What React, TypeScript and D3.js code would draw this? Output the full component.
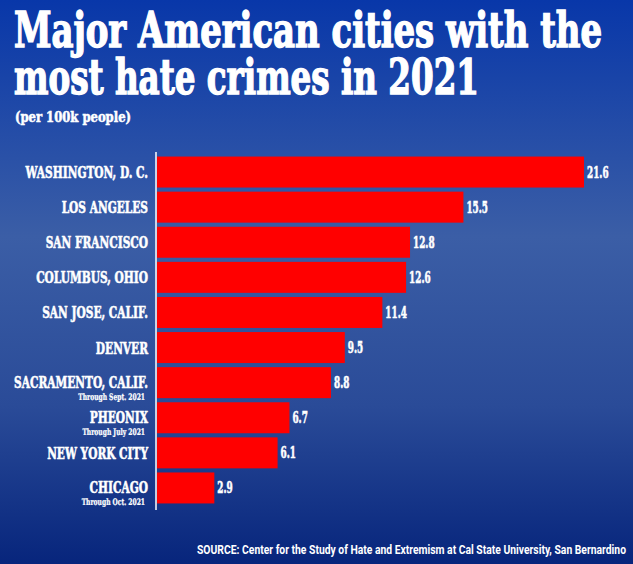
import React from "react";
import * as d3 from "d3";

const cities = [
  "WASHINGTON, D. C.",
  "LOS ANGELES",
  "SAN FRANCISCO",
  "COLUMBUS, OHIO",
  "SAN JOSE, CALIF.",
  "DENVER",
  "SACRAMENTO, CALIF.",
  "PHEONIX",
  "NEW YORK CITY",
  "CHICAGO",
];
const values = [21.6, 15.5, 12.8, 12.6, 11.4, 9.5, 8.8, 6.7, 6.1, 2.9];
const notes = ["", "", "", "", "", "", "Through Sept. 2021", "Through July 2021", "", "Through Oct. 2021"];
const titleLines = ["Major American cities with the", "most hate crimes in 2021"];
const subtitle = "(per 100k people)";
const source = "SOURCE: Center for the Study of Hate and Extremism at Cal State University, San Bernardino";

const W = 633;
const H = 564;
const SERIF = "'DejaVu Serif Condensed', 'DejaVu Serif', 'Liberation Serif', serif";

export default function App() {
  const x = d3.scaleLinear().domain([0, 21.6]).range([157, 584]);
  const y = d3
    .scaleBand<string>()
    .domain(cities)
    .range([154.5, 505.5])
    .paddingInner(0.117)
    .paddingOuter(0.0585);
  const bw = y.bandwidth();
  const fmt = d3.format(".1f");

  return (
    <svg
      width={W}
      height={H}
      style={{ position: "absolute", left: 0, top: 0, display: "block" }}
    >
      <defs>
        <linearGradient id="bg" x1="0" y1="0" x2="0" y2="1">
          <stop offset="0" stopColor="#0837a9" />
          <stop offset="0.42" stopColor="#3b5ea6" />
          <stop offset="0.72" stopColor="#2a4b98" />
          <stop offset="1" stopColor="#07257c" />
        </linearGradient>
      </defs>
      <rect x={0} y={0} width={W} height={H} fill="url(#bg)" />

      <g fill="#fff" stroke="#fff" fontFamily={SERIF} fontWeight="bold">
        <text
          x={14}
          y={47}
          fontSize={48}
          strokeWidth={1.4}
          textLength={588}
          lengthAdjust="spacingAndGlyphs"
        >
          {titleLines[0]}
        </text>
        <text
          x={14}
          y={94}
          fontSize={48}
          strokeWidth={1.4}
          textLength={465}
          lengthAdjust="spacingAndGlyphs"
        >
          {titleLines[1]}
        </text>
        <text
          x={15}
          y={122}
          fontSize={14}
          strokeWidth={0.5}
          textLength={116}
          lengthAdjust="spacingAndGlyphs"
        >
          {subtitle}
        </text>
      </g>

      {cities.map((c, i) => {
        const yc = (y(c) as number) + bw / 2;
        return (
          <g key={c}>
            <rect
              x={x(0)}
              y={y(c)}
              width={x(values[i]) - x(0)}
              height={bw}
              fill="#ff0000"
            />
            <g transform={`translate(148,${yc + (notes[i] ? 5 : 6)}) scale(0.675,1)`}>
              <text
                textAnchor="end"
                fill="#fff"
                stroke="#fff"
                strokeWidth={0.6}
                fontFamily={SERIF}
                fontWeight="bold"
                fontSize={17.5}
              >
                {c}
              </text>
            </g>
            {notes[i] && (
              <g transform={`translate(145,${yc + 17}) scale(0.74,1)`}>
                <text
                  textAnchor="end"
                  fill="#fff"
                  stroke="#fff"
                  strokeWidth={0.25}
                  fontFamily={SERIF}
                  fontWeight="bold"
                  fontSize={9}
                >
                  {notes[i]}
                </text>
              </g>
            )}
            <g transform={`translate(${x(values[i]) + 3},${yc + 5.5}) scale(0.58,1)`}>
              <text
                fill="#fff"
                stroke="#fff"
                strokeWidth={0.6}
                fontFamily={SERIF}
                fontWeight="bold"
                fontSize={17}
              >
                {fmt(values[i])}
              </text>
            </g>
          </g>
        );
      })}

      <line x1={156} x2={156} y1={152} y2={510} stroke="#fff" strokeWidth={1.5} />

      <text
        x={626}
        y={554}
        textAnchor="end"
        fill="#fff"
        fontFamily="Roboto, sans-serif"
        fontWeight="bold"
        fontSize={12.5}
        textLength={429}
        lengthAdjust="spacingAndGlyphs"
      >
        {source}
      </text>
    </svg>
  );
}
